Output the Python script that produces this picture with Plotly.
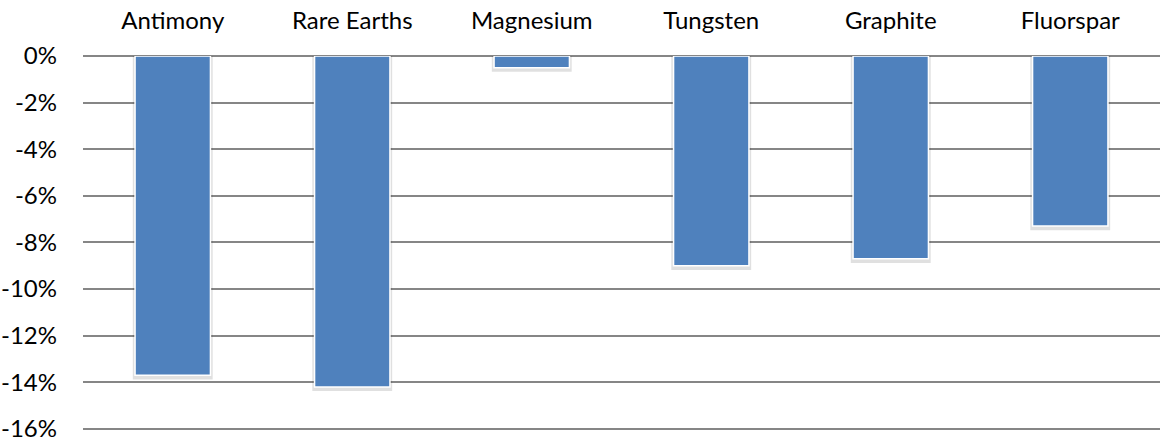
import plotly.graph_objects as go

categories = ["Antimony", "Rare Earths", "Magnesium", "Tungsten", "Graphite", "Fluorspar"]
values = [-13.7, -14.2, -0.5, -9.0, -8.7, -7.3]
tick_vals = [0, -2, -4, -6, -8, -10, -12, -14, -16]
tick_text = ["0%", "-2%", "-4%", "-6%", "-8%", "-10%", "-12%", "-14%", "-16%"]

fig = go.Figure()
# soft drop shadow behind each bar
fig.add_trace(go.Bar(
    x=categories, y=[v - 0.18 for v in values], width=0.445,
    marker=dict(color="rgba(0,0,0,0.12)", line=dict(width=0)),
    hoverinfo="skip",
))
fig.add_trace(go.Bar(
    x=categories, y=values, width=0.42,
    marker=dict(color="#4F81BD", line=dict(color="white", width=1.5)),
    hoverinfo="x+y",
))

font_family = "Lato, 'Open Sans', sans-serif"
fig.update_layout(
    width=1166, height=441,
    margin=dict(l=83, r=6, t=56, b=11),
    paper_bgcolor="white", plot_bgcolor="white",
    barmode="overlay",
    showlegend=False,
    font=dict(family=font_family, size=24, color="#000000"),
    xaxis=dict(side="top", showgrid=False, showline=False, ticks="",
               tickfont=dict(size=24), ticklabelstandoff=21, zeroline=False,
               automargin=False, ticklabeloverflow="allow"),
    yaxis=dict(range=[-16.05, 0], tickvals=tick_vals, ticktext=tick_text,
               showgrid=True, gridcolor="#868686", gridwidth=1.5,
               zeroline=True, zerolinecolor="#868686", zerolinewidth=1.5,
               tickfont=dict(size=24), ticklabelstandoff=25, showline=False,
               automargin=False, ticklabeloverflow="allow"),
)

fig.write_html(
    "out.html",
    config={"displayModeBar": False},
    post_script="document.body.style.margin='0';document.body.style.overflow='hidden';",
)
